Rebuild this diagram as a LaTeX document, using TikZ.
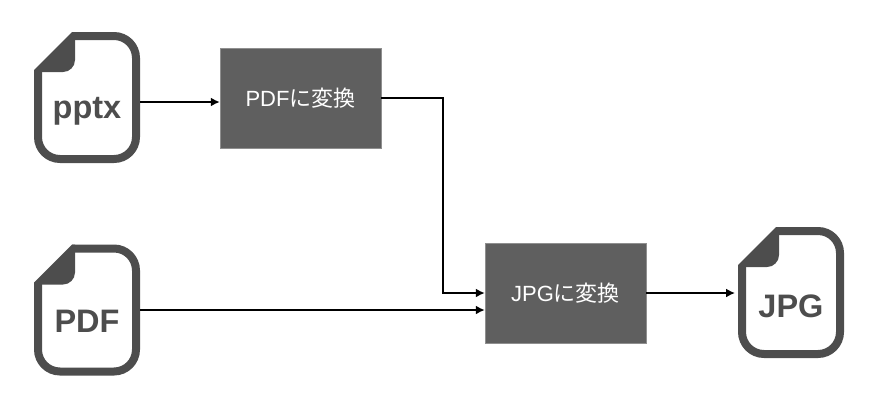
\documentclass[tikz,border=0pt]{standalone}
\usepackage{fontspec}
\setmainfont{Liberation Sans}
\newfontfamily\cjk{Noto Sans CJK JP}
\usetikzlibrary{arrows.meta}
\definecolor{icongray}{HTML}{4D4D4D}
\definecolor{boxgray}{HTML}{5F5F5F}
\tikzset{
    convbox/.style={fill=boxgray, draw=boxgray!70!white, line width=0.5pt, inner sep=0pt, minimum width=161pt, minimum height=100pt,
        text=white, font=\fontsize{22}{26}\selectfont},
    iconlabel/.style={text=icongray, inner sep=0pt, anchor=base, font=\bfseries\fontsize{32.5}{38}\selectfont},
    link/.style={line width=1.6pt, -{Latex[length=9pt,width=9pt]}}
}
\begin{document}
\begin{tikzpicture}[x=1pt,y=-1pt]
\useasboundingbox (0,0) rectangle (876,410);

% File icons
\foreach \name/\filetype/\base/\x/\y/\outx/\outy in {pptx/pptx/86/34/32/106/70,pdf/PDF/87.5/34/244.5/106/65.5,jpg/JPG/90/738/227/-3/66} {
    \begin{scope}[shift={(\x,\y)}]
        % Outline
        \draw[icongray, line width=8pt, rounded corners=22pt] (4,38) -- (4,127) -- (102,127) -- (102,4) -- (38,4);
        % Folded corner
        \fill[icongray, rounded corners=12pt] (41,0) -- (41,40) [sharp corners] -- (0,40) -- (0,38) -- (38,0) -- cycle;
        \node[iconlabel] (\name) at (53,\base) {\filetype};
        \coordinate (\name-end) at (\outx,\outy);
    \end{scope}
}

% Conversion boxes
\node[convbox] (pdfconv) at (300.5,98) {PDF{\cjk に変換}};
\node[convbox] (jpgconv) at (565.5,293) {JPG{\cjk に変換}};

% Connectors
\draw[link] (pptx-end) -- (pptx-end -| pdfconv.west);
\draw[link] (pdfconv.east) -| (443,293) -- (jpgconv.west);
\draw[link] (pdf-end) -- (pdf-end -| jpgconv.west);
\draw[link] (jpgconv.east) -- (jpg-end);
\end{tikzpicture}
\end{document}
